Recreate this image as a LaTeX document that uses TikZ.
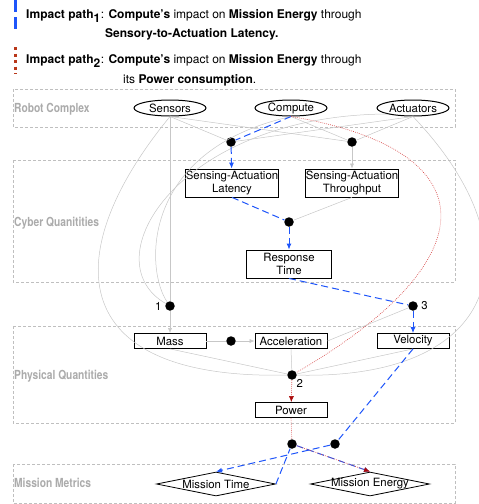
\documentclass[tikz,border=0pt]{standalone}
\usepackage{fontspec}
\setmainfont{TeX Gyre Heros}
\newfontfamily\condfont[FakeStretch=0.82]{TeX Gyre Heros}
\usetikzlibrary{shapes.geometric,arrows.meta}

\definecolor{pathblue}{RGB}{30,85,250}
\definecolor{pathred}{RGB}{215,70,70}
\definecolor{tipred}{RGB}{170,10,10}
\definecolor{legred}{RGB}{185,55,25}

\begin{document}
\begin{tikzpicture}[x=1pt,y=-1pt,
    font=\fontsize{11.4}{13}\selectfont,
    quantity/.style={draw,line width=0.8pt,rectangle,inner sep=0pt,align=center},
    component/.style={draw,line width=1pt,ellipse,inner sep=0pt,minimum width=72pt,minimum height=16pt},
    metric/.style={draw,line width=0.8pt,diamond,shape aspect=5,inner sep=-3pt,minimum width=119pt,minimum height=24pt},
    dot/.style={circle,fill=black,inner sep=0pt,minimum size=9.5pt},
    layerbox/.style={draw=black!25,line width=0.5pt,dash pattern=on 3pt off 2pt},
    layerlabel/.style={text=black!33,font=\condfont\fontsize{12.5}{13}\selectfont\bfseries,anchor=west,inner sep=0pt},
    link/.style={draw=black!22,line width=0.5pt},
    linkarrow/.style={link,-{Latex[length=5pt,width=4pt]}},
    bluepath/.style={draw=pathblue,line width=1pt,dash pattern=on 7pt off 4pt},
    bluearrow/.style={bluepath,-{Latex[length=6pt,width=5pt,fill=pathblue]}},
    redpath/.style={draw=pathred,line width=0.6pt,dash pattern=on 0.8pt off 1.2pt},
    redarrow/.style={redpath,-{Latex[length=6pt,width=5pt,color=tipred]}},
    legtext/.style={anchor=base west,inner sep=0pt,font=\fontsize{12}{14}\selectfont}]

  \useasboundingbox (0,0) rectangle (479,504);

  % legend
  \draw[pathblue,line width=3pt] (15,0) -- (15,12) (15,17) -- (15,29);
  \draw[legred,line width=3pt,dash pattern=on 3pt off 3.5pt] (15,47) -- (15,74);
  \node[legtext] (leg1) at (26,18) {\textbf{Impact path\textsubscript{\large 1}}: \textbf{Compute’s} impact on \textbf{Mission Energy} through};
  \node[legtext] (leg2) at (105,37) {\textbf{Sensory-to-Actuation Latency.}};
  \node[legtext] (leg3) at (26,63) {\textbf{Impact path\textsubscript{\large 2}}: \textbf{Compute’s} impact on \textbf{Mission Energy} through};
  \node[legtext] (leg4) at (123,83) {its \textbf{Power consumption}.};

  % layers
  \foreach \top/\bot/\ly/\name in {89/127/109/Robot Complex,160/282/223/Cyber Quanitities,326/423/376/Physical Quantities,464/503/483/Mission Metrics}{
    \draw[layerbox] (13,\top) rectangle (455,\bot);
    \node[layerlabel] (label\top) at (14,\ly) {\name};
  }

  % nodes
  \node[component] (sensors) at (170,108) {Sensors};
  \node[component] (compute) at (291,108) {Compute};
  \node[component] (actuators) at (413,108) {Actuators};
  \node[quantity,minimum width=90pt,minimum height=28pt] (latency) at (232,183) {Sensing-Actuation\\Latency};
  \node[quantity,minimum width=90pt,minimum height=28pt] (throughput) at (352,183) {Sensing-Actuation\\Throughput};
  \node[quantity,minimum width=85pt,minimum height=28pt] (response) at (289,264) {Response\\Time};
  \node[quantity,minimum width=72pt,minimum height=15pt] (mass) at (170,341) {Mass};
  \node[quantity,minimum width=72pt,minimum height=15pt] (accel) at (291,341) {Acceleration};
  \node[quantity,minimum width=72pt,minimum height=15pt] (velocity) at (413,341) {Velocity};
  \node[quantity,minimum width=72pt,minimum height=15pt] (power) at (291,410) {Power};
  \node[metric] (mtime) at (216,484) {Mission Time};
  \node[metric] (menergy) at (370,484) {Mission Energy};

  \foreach \nm/\x/\y in {j1/231/142,j2/352/142,j3/289/222,d1/170/306,d3/413/306,dm/231/341,d2/292/375,d4/292/444,d5/335/444}
    \node[dot] (\nm) at (\x,\y) {};
  \node[anchor=east] (n1) at (d1.west) {1};
  \node[anchor=west] (n3) at (d3.east) {3};
  \node[anchor=north west,inner sep=1pt] (n2) at (d2.south east) {2};

  % gray links
  \draw[link] (sensors.south) -- (j1);
  \draw[link] (sensors.south) -- (j2);
  \draw[link] (compute.south) -- (j2);
  \draw[link] (actuators.south) -- (j1);
  \draw[link] (actuators.south) -- (j2);
  \draw[linkarrow] (j2) -- (throughput);
  \draw[link] (throughput.south) -- (j3);
  \draw[link] (sensors.south) -- (d1);
  \draw[link] (compute.south) .. controls (140,150) and (145,270) .. (d1);
  \draw[link] (actuators.south west) .. controls (180,115) and (90,260) .. (d1);
  \draw[linkarrow] (d1) -- (mass);
  \draw[link] (mass) -- (dm);
  \draw[linkarrow] (dm) -- (accel);
  \draw[link] (accel.east) -- (d3);
  \draw[link] (mass.south) -- (d2);
  \draw[link] (accel.south) -- (d2);
  \draw[link] (velocity.south) -- (d2);
  \draw[link] (sensors.south) .. controls (60,250) and (60,380) .. (d2);
  \draw[link] (actuators.south) .. controls (540,250) and (500,380) .. (d2);

  % impact path 1
  \draw[bluepath] (compute.south) -- (j1);
  \draw[bluearrow] (j1) -- (latency);
  \draw[bluepath] (latency.south) -- (j3);
  \draw[bluearrow] (j3) -- (response);
  \draw[bluepath] (response.south) -- (d3);
  \draw[bluearrow] (d3) -- (velocity);
  \draw[bluepath] (velocity.south) -- (d5);
  \draw[bluearrow] (d5) -- (mtime.north);
  \draw[bluepath] (mtime.east) -- (d4);
  \draw[bluearrow] (d4) -- (menergy.north);

  % impact path 2
  \draw[redpath] (compute.south) .. controls (490,150) and (490,260) .. (d2);
  \draw[redarrow] (d2) -- (power);
  \draw[redpath] (power.south) -- (d4);
  \draw[redarrow] (d4) -- (menergy.north);
\end{tikzpicture}
\end{document}
